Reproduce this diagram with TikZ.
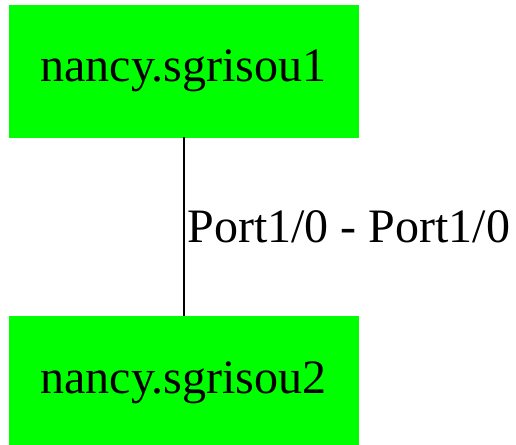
\documentclass[tikz,border=0pt]{standalone}
\usepackage{fontspec}
\newfontfamily\hostfont{Liberation Serif}
\usetikzlibrary{positioning}
\tikzset{
        treenode/.style={align=center,inner sep=0pt},
        % Host nodes
        node_host/.style={treenode, rectangle, fill=green, draw=green, minimum width=349pt, minimum height=132pt, font=\hostfont\fontsize{48}{56}\selectfont},
        % Link labels
        node_link/.style={treenode, font=\hostfont\fontsize{48}{56}\selectfont}
}
\begin{document}
\begin{tikzpicture}[x=1pt, y=1pt, node distance=179pt]
            \useasboundingbox (0,0) rectangle (516,-444);
            \node[node_host] (sgrisou1) at (183.5,-71) {nancy.sgrisou1};
            \node[node_host, below=of sgrisou1] (sgrisou2) {nancy.sgrisou2};
            \draw[line width=2pt] (sgrisou1) -- node[node_link, right=3pt]{Port1/0 - Port1/0} (sgrisou2);
\end{tikzpicture}
\end{document}
